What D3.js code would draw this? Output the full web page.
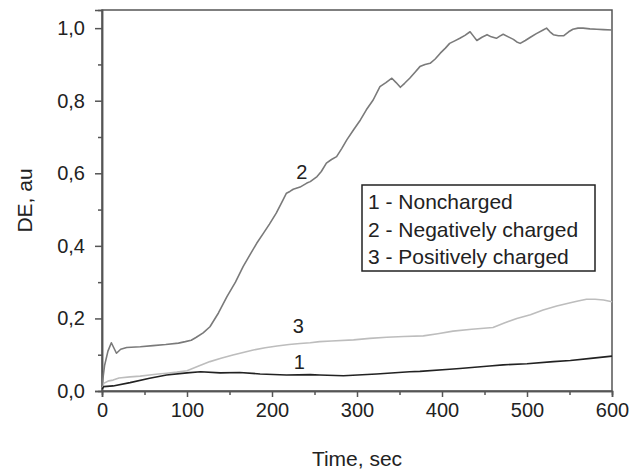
<!DOCTYPE html>
<html>
<head>
<meta charset="utf-8">
<script src="https://cdn.jsdelivr.net/npm/d3@7"></script>
<style>
  body { margin: 0; background: #fff; }
  svg text { font-family: "Liberation Sans", Arial, sans-serif; fill: #222; }
</style>
</head>
<body>
<script>
// values (time in sec, DE in au)
var timeNeg = [0, 3, 7, 11, 17, 22, 29, 45, 60, 75, 90, 98, 105, 111, 119, 127, 137, 147, 157, 166, 174, 182, 190, 197, 205, 213, 217, 221, 225, 233, 241, 245, 253, 258, 264, 270, 276, 282, 288, 296, 304, 311, 319, 327, 334, 341, 346, 351, 356, 362, 368, 374, 380, 386, 392, 398, 404, 409, 415, 421, 427, 433, 437, 441, 447, 453, 458, 464, 468, 472, 478, 484, 488, 492, 498, 504, 511, 519, 523, 527, 531, 537, 543, 549, 554, 560, 566, 574, 582, 590, 600];
var valNeg = [0.015, 0.07, 0.11, 0.133, 0.104, 0.115, 0.12, 0.122, 0.125, 0.128, 0.132, 0.136, 0.14, 0.148, 0.16, 0.177, 0.215, 0.26, 0.30, 0.343, 0.375, 0.407, 0.435, 0.46, 0.49, 0.527, 0.545, 0.55, 0.556, 0.562, 0.573, 0.577, 0.591, 0.605, 0.628, 0.638, 0.646, 0.668, 0.692, 0.72, 0.747, 0.775, 0.802, 0.839, 0.85, 0.862, 0.85, 0.837, 0.848, 0.862, 0.878, 0.894, 0.9, 0.903, 0.915, 0.931, 0.945, 0.958, 0.965, 0.972, 0.98, 0.99, 0.978, 0.966, 0.975, 0.982, 0.976, 0.972, 0.978, 0.983, 0.976, 0.969, 0.962, 0.958, 0.966, 0.975, 0.985, 0.995, 1.0, 0.99, 0.982, 0.979, 0.979, 0.99, 0.997, 1.0, 1.0, 0.998, 0.997, 0.996, 0.995];

var timePos = [0, 2, 8, 13, 20, 33, 45, 56, 66, 76, 88, 100, 113, 127, 140, 154, 166, 178, 192, 206, 220, 233, 245, 256, 270, 296, 315, 335, 355, 378, 395, 413, 435, 460, 474, 488, 504, 519, 535, 551, 560, 570, 580, 590, 600];
var valPos = [0.005, 0.021, 0.028, 0.03, 0.036, 0.039, 0.041, 0.044, 0.047, 0.049, 0.052, 0.056, 0.068, 0.081, 0.09, 0.099, 0.106, 0.113, 0.119, 0.124, 0.128, 0.131, 0.133, 0.136, 0.138, 0.141, 0.145, 0.148, 0.15, 0.152, 0.158, 0.165, 0.17, 0.175, 0.188, 0.2, 0.21, 0.223, 0.234, 0.243, 0.248, 0.253, 0.253, 0.251, 0.246];

var timeNon = [0, 2, 13, 33, 56, 76, 100, 116, 139, 162, 186, 217, 245, 256, 284, 323, 362, 374, 409, 421, 456, 472, 500, 531, 551, 575, 600];
var valNon = [0.005, 0.012, 0.014, 0.023, 0.035, 0.044, 0.05, 0.053, 0.05, 0.051, 0.047, 0.044, 0.045, 0.044, 0.042, 0.047, 0.053, 0.054, 0.06, 0.062, 0.069, 0.072, 0.075, 0.081, 0.084, 0.09, 0.096];

var legendLabels = ["1 - Noncharged", "2 - Negatively charged", "3 - Positively charged"];
var xTicks = [0, 100, 200, 300, 400, 500, 600];
var yTicks = [0, 0.2, 0.4, 0.6, 0.8, 1.0];

var W = 630, H = 472;
var margin = {left: 102, right: 18, top: 10, bottom: 81};

var svg = d3.select("body").append("svg").attr("width", W).attr("height", H);

var x = d3.scaleLinear().domain([0, 600]).range([margin.left, W - margin.right]);
var y = d3.scaleLinear().domain([0, 1.05]).range([H - margin.bottom, margin.top]);

var axisColor = "#555";

// frame
svg.append("rect")
    .attr("x", x(0)).attr("y", y(1.05))
    .attr("width", x(600) - x(0)).attr("height", y(0) - y(1.05))
    .attr("fill", "none").attr("stroke", axisColor).attr("stroke-width", 1.5);

// minor ticks
var xAxisMinor = d3.axisBottom(x).tickValues(d3.range(50, 600, 100)).tickSize(4).tickFormat("");
var yAxisMinor = d3.axisLeft(y).tickValues(d3.range(0.1, 1.05, 0.2)).tickSize(4).tickFormat("");

var fmt = function (d) { return d3.format(".1f")(d).replace(".", ","); };
var xAxis = d3.axisBottom(x).tickValues(xTicks).tickSize(6).tickPadding(6).tickFormat(d3.format("d"));
var yAxis = d3.axisLeft(y).tickValues(yTicks).tickSize(7).tickPadding(10).tickFormat(fmt);

[xAxisMinor, xAxis].forEach(function (a) {
    svg.append("g").attr("transform", "translate(0," + y(0) + ")").call(a);
});
[yAxisMinor, yAxis].forEach(function (a) {
    svg.append("g").attr("transform", "translate(" + x(0) + ",0)").call(a);
});

svg.selectAll(".domain").attr("stroke", axisColor).attr("stroke-width", 1.5);
svg.selectAll(".tick line").attr("stroke", axisColor).attr("stroke-width", 1.5);
svg.selectAll(".tick text")
    .style("font-family", "'Liberation Sans', Arial, sans-serif")
    .style("font-size", "20px").attr("fill", "#222");

// curves
var line = d3.line().x(function (d) { return x(d[0]); }).y(function (d) { return y(d[1]); });

var series = [
    {t: timePos, v: valPos, color: "#bdbdbd", w: 1.6},
    {t: timeNeg, v: valNeg, color: "#7a7a7a", w: 1.6},
    {t: timeNon, v: valNon, color: "#222", w: 1.6}
];
series.forEach(function (s) {
    svg.append("path")
        .datum(s.t.map(function (t, i) { return [t, s.v[i]]; }))
        .attr("d", line)
        .attr("fill", "none")
        .attr("stroke", s.color)
        .attr("stroke-width", s.w)
        .attr("stroke-linejoin", "round");
});

// curve numbers
var curveLabels = [
    {text: "2", t: 235, v: 0.585},
    {text: "3", t: 231, v: 0.16},
    {text: "1", t: 232, v: 0.06}
];
svg.selectAll("text.num").data(curveLabels).enter().append("text")
    .attr("class", "num")
    .attr("x", function (d) { return x(d.t); })
    .attr("y", function (d) { return y(d.v); })
    .attr("text-anchor", "middle")
    .style("font-size", "20px")
    .text(function (d) { return d.text; });

// legend
var lg = svg.append("g");
lg.append("rect")
    .attr("x", 362).attr("y", 185).attr("width", 233).attr("height", 86)
    .attr("fill", "#fff").attr("stroke", "#222").attr("stroke-width", 1.5);
lg.selectAll("text").data(legendLabels).enter().append("text")
    .attr("x", 368)
    .attr("y", function (d, i) { return 209 + i * 27.5; })
    .style("font-size", "21px")
    .text(function (d) { return d; });

// axis titles
svg.append("text")
    .attr("x", (x(0) + x(600)) / 2)
    .attr("y", 466)
    .attr("text-anchor", "middle")
    .style("font-size", "21px")
    .text("Time, sec");

svg.append("text")
    .attr("transform", "translate(32," + ((y(0) + y(1.05)) / 2) + ") rotate(-90)")
    .attr("text-anchor", "middle")
    .style("font-size", "21px")
    .text("DE, au");
</script>
</body>
</html>
